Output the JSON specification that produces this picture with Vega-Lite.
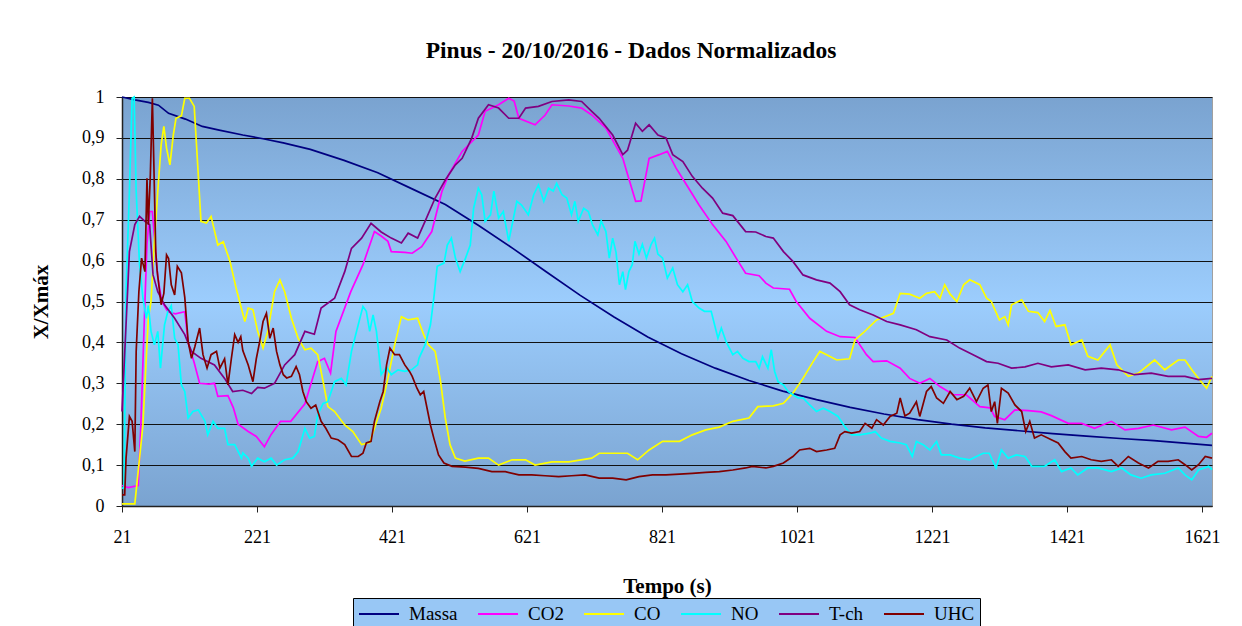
{
"$schema": "https://vega.github.io/schema/vega-lite/v6.json",
"width": 1090, "height": 409,
"autosize": {"type": "none"},
"padding": {"left": 122, "top": 97, "right": 30, "bottom": 120},
"background": "white",
"title": {"text": "Pinus - 20/10/2016 - Dados Normalizados", "font": "Liberation Serif", "fontSize": 23.5, "fontWeight": "bold", "color": "black", "anchor": "middle", "dx": -36, "offset": 26},
"view": {"fill": {"gradient": "linear", "x1": 0, "y1": 0, "x2": 0, "y2": 1, "stops": [{"offset": 0, "color": "#7aa3d0"}, {"offset": 0.5, "color": "#9ccdfd"}, {"offset": 1, "color": "#7aa3d0"}]}, "stroke": "#a0a0a0", "strokeWidth": 1},
"config": {
  "axis": {"labelFont": "Liberation Serif", "labelFontSize": 18, "labelColor": "black", "titleFont": "Liberation Serif", "titleFontSize": 21, "titleFontWeight": "bold", "titleColor": "black", "domainColor": "#222", "tickColor": "#222", "tickSize": 6, "domainWidth": 1.5}
},
"datasets": {
"Massa": [{"t":21,"v":1.0},{"t":40,"v":0.993},{"t":60,"v":0.987},{"t":75,"v":0.98},{"t":90,"v":0.96},{"t":115,"v":0.946},{"t":140,"v":0.928},{"t":165,"v":0.919},{"t":200,"v":0.907},{"t":230,"v":0.898},{"t":260,"v":0.888},{"t":300,"v":0.872},{"t":350,"v":0.845},{"t":400,"v":0.815},{"t":450,"v":0.776},{"t":500,"v":0.737},{"t":550,"v":0.685},{"t":600,"v":0.63},{"t":650,"v":0.572},{"t":700,"v":0.515},{"t":750,"v":0.462},{"t":800,"v":0.413},{"t":850,"v":0.372},{"t":900,"v":0.337},{"t":950,"v":0.307},{"t":1000,"v":0.281},{"t":1050,"v":0.26},{"t":1100,"v":0.241},{"t":1150,"v":0.225},{"t":1200,"v":0.211},{"t":1250,"v":0.2},{"t":1300,"v":0.191},{"t":1350,"v":0.184},{"t":1400,"v":0.177},{"t":1450,"v":0.171},{"t":1500,"v":0.165},{"t":1550,"v":0.16},{"t":1600,"v":0.153},{"t":1636,"v":0.148}],
"CO2": [{"t":21,"v":0.05},{"t":30,"v":0.045},{"t":45,"v":0.05},{"t":49,"v":0.2},{"t":52,"v":0.35},{"t":55,"v":0.5},{"t":58,"v":0.64},{"t":62,"v":0.72},{"t":66,"v":0.72},{"t":69,"v":0.66},{"t":74,"v":0.56},{"t":80,"v":0.5},{"t":89,"v":0.475},{"t":100,"v":0.47},{"t":114,"v":0.475},{"t":119,"v":0.4},{"t":128,"v":0.35},{"t":136,"v":0.3},{"t":150,"v":0.298},{"t":158,"v":0.3},{"t":163,"v":0.268},{"t":178,"v":0.27},{"t":186,"v":0.24},{"t":193,"v":0.2},{"t":208,"v":0.182},{"t":220,"v":0.17},{"t":232,"v":0.145},{"t":242,"v":0.175},{"t":256,"v":0.207},{"t":271,"v":0.207},{"t":292,"v":0.25},{"t":311,"v":0.353},{"t":321,"v":0.361},{"t":330,"v":0.325},{"t":338,"v":0.427},{"t":360,"v":0.524},{"t":378,"v":0.59},{"t":395,"v":0.671},{"t":405,"v":0.66},{"t":415,"v":0.647},{"t":420,"v":0.622},{"t":440,"v":0.62},{"t":451,"v":0.618},{"t":465,"v":0.634},{"t":480,"v":0.671},{"t":495,"v":0.769},{"t":505,"v":0.81},{"t":525,"v":0.867},{"t":549,"v":0.907},{"t":559,"v":0.965},{"t":579,"v":0.981},{"t":594,"v":0.997},{"t":602,"v":0.99},{"t":609,"v":0.948},{"t":633,"v":0.932},{"t":648,"v":0.956},{"t":658,"v":0.981},{"t":683,"v":0.978},{"t":702,"v":0.973},{"t":717,"v":0.956},{"t":738,"v":0.924},{"t":763,"v":0.85},{"t":772,"v":0.8},{"t":782,"v":0.745},{"t":790,"v":0.746},{"t":802,"v":0.85},{"t":817,"v":0.859},{"t":829,"v":0.867},{"t":842,"v":0.826},{"t":856,"v":0.789},{"t":876,"v":0.736},{"t":896,"v":0.688},{"t":916,"v":0.647},{"t":931,"v":0.606},{"t":945,"v":0.569},{"t":965,"v":0.563},{"t":975,"v":0.545},{"t":986,"v":0.533},{"t":1010,"v":0.53},{"t":1020,"v":0.5},{"t":1040,"v":0.459},{"t":1065,"v":0.427},{"t":1085,"v":0.414},{"t":1107,"v":0.412},{"t":1124,"v":0.37},{"t":1134,"v":0.353},{"t":1154,"v":0.355},{"t":1174,"v":0.337},{"t":1188,"v":0.312},{"t":1203,"v":0.3},{"t":1218,"v":0.312},{"t":1233,"v":0.292},{"t":1253,"v":0.272},{"t":1272,"v":0.272},{"t":1292,"v":0.243},{"t":1307,"v":0.24},{"t":1314,"v":0.219},{"t":1329,"v":0.211},{"t":1344,"v":0.235},{"t":1364,"v":0.233},{"t":1383,"v":0.23},{"t":1398,"v":0.221},{"t":1423,"v":0.202},{"t":1443,"v":0.202},{"t":1462,"v":0.19},{"t":1487,"v":0.207},{"t":1507,"v":0.186},{"t":1527,"v":0.19},{"t":1549,"v":0.198},{"t":1576,"v":0.186},{"t":1596,"v":0.193},{"t":1616,"v":0.17},{"t":1628,"v":0.168},{"t":1636,"v":0.178}],
"CO": [{"t":21,"v":0.005},{"t":30,"v":0.005},{"t":40,"v":0.005},{"t":47,"v":0.117},{"t":52,"v":0.198},{"t":56,"v":0.33},{"t":60,"v":0.459},{"t":64,"v":0.5},{"t":69,"v":0.647},{"t":74,"v":0.769},{"t":79,"v":0.883},{"t":83,"v":0.928},{"t":87,"v":0.875},{"t":92,"v":0.834},{"t":97,"v":0.907},{"t":101,"v":0.948},{"t":109,"v":0.954},{"t":114,"v":0.997},{"t":121,"v":0.997},{"t":128,"v":0.977},{"t":134,"v":0.81},{"t":138,"v":0.696},{"t":146,"v":0.692},{"t":153,"v":0.708},{"t":163,"v":0.638},{"t":171,"v":0.646},{"t":181,"v":0.598},{"t":190,"v":0.533},{"t":200,"v":0.47},{"t":203,"v":0.451},{"t":208,"v":0.484},{"t":215,"v":0.48},{"t":222,"v":0.427},{"t":230,"v":0.386},{"t":237,"v":0.427},{"t":247,"v":0.524},{"t":255,"v":0.553},{"t":262,"v":0.524},{"t":272,"v":0.459},{"t":282,"v":0.41},{"t":292,"v":0.382},{"t":301,"v":0.386},{"t":311,"v":0.37},{"t":319,"v":0.304},{"t":326,"v":0.243},{"t":336,"v":0.231},{"t":351,"v":0.198},{"t":363,"v":0.182},{"t":376,"v":0.15},{"t":388,"v":0.155},{"t":395,"v":0.19},{"t":405,"v":0.239},{"t":415,"v":0.312},{"t":425,"v":0.394},{"t":435,"v":0.463},{"t":445,"v":0.455},{"t":459,"v":0.459},{"t":468,"v":0.419},{"t":475,"v":0.394},{"t":485,"v":0.378},{"t":493,"v":0.304},{"t":500,"v":0.215},{"t":507,"v":0.15},{"t":515,"v":0.117},{"t":529,"v":0.11},{"t":549,"v":0.117},{"t":564,"v":0.117},{"t":579,"v":0.1},{"t":599,"v":0.113},{"t":619,"v":0.113},{"t":633,"v":0.1},{"t":658,"v":0.108},{"t":683,"v":0.108},{"t":717,"v":0.117},{"t":728,"v":0.129},{"t":748,"v":0.129},{"t":770,"v":0.129},{"t":785,"v":0.113},{"t":802,"v":0.137},{"t":822,"v":0.158},{"t":847,"v":0.158},{"t":866,"v":0.174},{"t":886,"v":0.186},{"t":906,"v":0.193},{"t":926,"v":0.207},{"t":950,"v":0.215},{"t":963,"v":0.243},{"t":986,"v":0.245},{"t":1001,"v":0.251},{"t":1015,"v":0.276},{"t":1030,"v":0.312},{"t":1045,"v":0.353},{"t":1055,"v":0.378},{"t":1065,"v":0.37},{"t":1080,"v":0.357},{"t":1099,"v":0.36},{"t":1107,"v":0.406},{"t":1119,"v":0.423},{"t":1139,"v":0.455},{"t":1164,"v":0.471},{"t":1174,"v":0.52},{"t":1188,"v":0.518},{"t":1203,"v":0.508},{"t":1213,"v":0.52},{"t":1225,"v":0.524},{"t":1233,"v":0.508},{"t":1240,"v":0.541},{"t":1248,"v":0.518},{"t":1258,"v":0.5},{"t":1268,"v":0.541},{"t":1277,"v":0.553},{"t":1292,"v":0.541},{"t":1302,"v":0.508},{"t":1309,"v":0.5},{"t":1321,"v":0.455},{"t":1329,"v":0.463},{"t":1334,"v":0.443},{"t":1339,"v":0.492},{"t":1354,"v":0.504},{"t":1364,"v":0.476},{"t":1378,"v":0.473},{"t":1388,"v":0.451},{"t":1396,"v":0.478},{"t":1405,"v":0.439},{"t":1418,"v":0.443},{"t":1427,"v":0.394},{"t":1443,"v":0.406},{"t":1452,"v":0.366},{"t":1467,"v":0.357},{"t":1485,"v":0.394},{"t":1495,"v":0.345},{"t":1512,"v":0.317},{"t":1527,"v":0.325},{"t":1551,"v":0.357},{"t":1566,"v":0.333},{"t":1586,"v":0.357},{"t":1596,"v":0.357},{"t":1608,"v":0.329},{"t":1620,"v":0.304},{"t":1628,"v":0.288},{"t":1636,"v":0.317}],
"NO": [{"t":21,"v":0.043},{"t":24,"v":0.045},{"t":27,"v":0.524},{"t":32,"v":0.77},{"t":36,"v":0.997},{"t":39,"v":1.0},{"t":42,"v":0.769},{"t":47,"v":0.59},{"t":52,"v":0.508},{"t":57,"v":0.459},{"t":60,"v":0.49},{"t":64,"v":0.427},{"t":69,"v":0.394},{"t":74,"v":0.427},{"t":78,"v":0.337},{"t":84,"v":0.443},{"t":89,"v":0.476},{"t":94,"v":0.49},{"t":99,"v":0.41},{"t":104,"v":0.394},{"t":109,"v":0.296},{"t":114,"v":0.28},{"t":119,"v":0.215},{"t":126,"v":0.231},{"t":134,"v":0.235},{"t":144,"v":0.207},{"t":148,"v":0.174},{"t":156,"v":0.207},{"t":163,"v":0.19},{"t":173,"v":0.19},{"t":178,"v":0.15},{"t":188,"v":0.15},{"t":198,"v":0.117},{"t":200,"v":0.13},{"t":208,"v":0.117},{"t":213,"v":0.097},{"t":222,"v":0.117},{"t":232,"v":0.108},{"t":242,"v":0.117},{"t":250,"v":0.1},{"t":262,"v":0.113},{"t":274,"v":0.117},{"t":282,"v":0.133},{"t":292,"v":0.19},{"t":299,"v":0.166},{"t":306,"v":0.17},{"t":311,"v":0.223},{"t":319,"v":0.251},{"t":326,"v":0.255},{"t":336,"v":0.304},{"t":346,"v":0.312},{"t":353,"v":0.296},{"t":361,"v":0.378},{"t":371,"v":0.443},{"t":378,"v":0.488},{"t":383,"v":0.476},{"t":388,"v":0.427},{"t":393,"v":0.467},{"t":398,"v":0.427},{"t":405,"v":0.321},{"t":413,"v":0.34},{"t":420,"v":0.321},{"t":430,"v":0.333},{"t":440,"v":0.329},{"t":450,"v":0.333},{"t":459,"v":0.345},{"t":461,"v":0.361},{"t":470,"v":0.394},{"t":478,"v":0.443},{"t":483,"v":0.508},{"t":488,"v":0.586},{"t":498,"v":0.594},{"t":503,"v":0.638},{"t":509,"v":0.655},{"t":515,"v":0.606},{"t":522,"v":0.573},{"t":530,"v":0.606},{"t":537,"v":0.638},{"t":542,"v":0.728},{"t":549,"v":0.777},{"t":554,"v":0.761},{"t":559,"v":0.696},{"t":567,"v":0.712},{"t":572,"v":0.77},{"t":579,"v":0.704},{"t":586,"v":0.72},{"t":594,"v":0.647},{"t":601,"v":0.704},{"t":606,"v":0.745},{"t":613,"v":0.736},{"t":623,"v":0.712},{"t":631,"v":0.761},{"t":638,"v":0.785},{"t":646,"v":0.745},{"t":653,"v":0.777},{"t":660,"v":0.77},{"t":665,"v":0.789},{"t":673,"v":0.761},{"t":680,"v":0.753},{"t":687,"v":0.712},{"t":692,"v":0.745},{"t":697,"v":0.696},{"t":705,"v":0.728},{"t":712,"v":0.72},{"t":718,"v":0.688},{"t":726,"v":0.663},{"t":731,"v":0.697},{"t":738,"v":0.671},{"t":743,"v":0.606},{"t":748,"v":0.655},{"t":753,"v":0.62},{"t":758,"v":0.541},{"t":763,"v":0.573},{"t":767,"v":0.529},{"t":772,"v":0.573},{"t":777,"v":0.59},{"t":781,"v":0.647},{"t":787,"v":0.616},{"t":792,"v":0.64},{"t":798,"v":0.606},{"t":805,"v":0.64},{"t":810,"v":0.655},{"t":815,"v":0.616},{"t":822,"v":0.606},{"t":829,"v":0.557},{"t":837,"v":0.582},{"t":844,"v":0.541},{"t":852,"v":0.524},{"t":859,"v":0.541},{"t":866,"v":0.5},{"t":876,"v":0.484},{"t":884,"v":0.476},{"t":894,"v":0.476},{"t":899,"v":0.443},{"t":904,"v":0.41},{"t":909,"v":0.435},{"t":916,"v":0.402},{"t":926,"v":0.37},{"t":933,"v":0.378},{"t":941,"v":0.361},{"t":950,"v":0.353},{"t":960,"v":0.353},{"t":965,"v":0.337},{"t":970,"v":0.365},{"t":978,"v":0.337},{"t":983,"v":0.382},{"t":988,"v":0.329},{"t":993,"v":0.304},{"t":1001,"v":0.296},{"t":1008,"v":0.28},{"t":1015,"v":0.272},{"t":1023,"v":0.264},{"t":1030,"v":0.264},{"t":1040,"v":0.247},{"t":1050,"v":0.231},{"t":1060,"v":0.239},{"t":1070,"v":0.231},{"t":1082,"v":0.219},{"t":1092,"v":0.194},{"t":1102,"v":0.174},{"t":1114,"v":0.174},{"t":1129,"v":0.178},{"t":1137,"v":0.182},{"t":1146,"v":0.166},{"t":1159,"v":0.158},{"t":1174,"v":0.154},{"t":1183,"v":0.15},{"t":1192,"v":0.121},{"t":1198,"v":0.158},{"t":1208,"v":0.15},{"t":1218,"v":0.137},{"t":1228,"v":0.158},{"t":1235,"v":0.125},{"t":1248,"v":0.125},{"t":1262,"v":0.117},{"t":1277,"v":0.113},{"t":1287,"v":0.121},{"t":1297,"v":0.129},{"t":1306,"v":0.129},{"t":1316,"v":0.093},{"t":1324,"v":0.137},{"t":1334,"v":0.117},{"t":1346,"v":0.125},{"t":1359,"v":0.121},{"t":1369,"v":0.097},{"t":1388,"v":0.097},{"t":1403,"v":0.113},{"t":1413,"v":0.084},{"t":1427,"v":0.093},{"t":1437,"v":0.076},{"t":1452,"v":0.093},{"t":1467,"v":0.093},{"t":1487,"v":0.084},{"t":1502,"v":0.093},{"t":1516,"v":0.076},{"t":1531,"v":0.068},{"t":1546,"v":0.076},{"t":1566,"v":0.08},{"t":1586,"v":0.093},{"t":1596,"v":0.076},{"t":1606,"v":0.064},{"t":1616,"v":0.088},{"t":1631,"v":0.097},{"t":1636,"v":0.089}],
"T-ch": [{"t":21,"v":0.231},{"t":27,"v":0.444},{"t":32,"v":0.622},{"t":40,"v":0.688},{"t":47,"v":0.708},{"t":55,"v":0.696},{"t":62,"v":0.688},{"t":67,"v":0.565},{"t":74,"v":0.524},{"t":84,"v":0.492},{"t":99,"v":0.459},{"t":114,"v":0.419},{"t":124,"v":0.378},{"t":138,"v":0.361},{"t":158,"v":0.345},{"t":173,"v":0.312},{"t":185,"v":0.28},{"t":200,"v":0.283},{"t":213,"v":0.275},{"t":222,"v":0.29},{"t":232,"v":0.288},{"t":247,"v":0.3},{"t":262,"v":0.345},{"t":277,"v":0.37},{"t":292,"v":0.427},{"t":306,"v":0.42},{"t":316,"v":0.484},{"t":336,"v":0.508},{"t":351,"v":0.573},{"t":361,"v":0.63},{"t":376,"v":0.655},{"t":390,"v":0.691},{"t":405,"v":0.67},{"t":420,"v":0.655},{"t":435,"v":0.643},{"t":445,"v":0.667},{"t":459,"v":0.655},{"t":470,"v":0.696},{"t":485,"v":0.753},{"t":500,"v":0.797},{"t":515,"v":0.834},{"t":525,"v":0.85},{"t":539,"v":0.899},{"t":549,"v":0.948},{"t":564,"v":0.981},{"t":579,"v":0.973},{"t":594,"v":0.948},{"t":609,"v":0.948},{"t":619,"v":0.973},{"t":638,"v":0.977},{"t":658,"v":0.989},{"t":683,"v":0.993},{"t":702,"v":0.989},{"t":717,"v":0.965},{"t":728,"v":0.948},{"t":748,"v":0.907},{"t":763,"v":0.859},{"t":770,"v":0.87},{"t":782,"v":0.936},{"t":792,"v":0.916},{"t":802,"v":0.932},{"t":815,"v":0.907},{"t":827,"v":0.9},{"t":837,"v":0.859},{"t":852,"v":0.842},{"t":866,"v":0.806},{"t":881,"v":0.777},{"t":896,"v":0.753},{"t":911,"v":0.716},{"t":926,"v":0.71},{"t":945,"v":0.671},{"t":960,"v":0.67},{"t":975,"v":0.659},{"t":986,"v":0.655},{"t":1001,"v":0.622},{"t":1015,"v":0.598},{"t":1030,"v":0.565},{"t":1050,"v":0.553},{"t":1070,"v":0.545},{"t":1085,"v":0.524},{"t":1099,"v":0.492},{"t":1114,"v":0.48},{"t":1134,"v":0.467},{"t":1154,"v":0.451},{"t":1174,"v":0.443},{"t":1198,"v":0.431},{"t":1218,"v":0.414},{"t":1243,"v":0.406},{"t":1262,"v":0.386},{"t":1282,"v":0.37},{"t":1302,"v":0.353},{"t":1319,"v":0.349},{"t":1339,"v":0.337},{"t":1359,"v":0.34},{"t":1378,"v":0.349},{"t":1398,"v":0.34},{"t":1423,"v":0.345},{"t":1448,"v":0.333},{"t":1472,"v":0.337},{"t":1497,"v":0.333},{"t":1521,"v":0.321},{"t":1546,"v":0.325},{"t":1571,"v":0.317},{"t":1596,"v":0.317},{"t":1616,"v":0.309},{"t":1636,"v":0.312}],
"UHC": [{"t":21,"v":0.027},{"t":25,"v":0.027},{"t":27,"v":0.117},{"t":32,"v":0.219},{"t":36,"v":0.207},{"t":40,"v":0.133},{"t":42,"v":0.378},{"t":46,"v":0.524},{"t":50,"v":0.606},{"t":55,"v":0.573},{"t":58,"v":0.801},{"t":60,"v":0.688},{"t":63,"v":0.81},{"t":66,"v":0.997},{"t":68,"v":0.85},{"t":71,"v":0.622},{"t":73,"v":0.576},{"t":79,"v":0.492},{"t":83,"v":0.52},{"t":87,"v":0.614},{"t":90,"v":0.605},{"t":94,"v":0.541},{"t":99,"v":0.516},{"t":103,"v":0.586},{"t":109,"v":0.57},{"t":114,"v":0.51},{"t":119,"v":0.402},{"t":124,"v":0.361},{"t":129,"v":0.39},{"t":136,"v":0.435},{"t":141,"v":0.37},{"t":147,"v":0.337},{"t":153,"v":0.37},{"t":161,"v":0.378},{"t":166,"v":0.337},{"t":173,"v":0.36},{"t":178,"v":0.296},{"t":183,"v":0.36},{"t":188,"v":0.419},{"t":193,"v":0.4},{"t":197,"v":0.414},{"t":200,"v":0.38},{"t":208,"v":0.345},{"t":215,"v":0.304},{"t":220,"v":0.36},{"t":225,"v":0.402},{"t":230,"v":0.451},{"t":235,"v":0.471},{"t":240,"v":0.41},{"t":245,"v":0.435},{"t":250,"v":0.378},{"t":255,"v":0.345},{"t":260,"v":0.321},{"t":265,"v":0.313},{"t":272,"v":0.317},{"t":279,"v":0.341},{"t":284,"v":0.321},{"t":289,"v":0.28},{"t":294,"v":0.255},{"t":301,"v":0.239},{"t":308,"v":0.247},{"t":316,"v":0.207},{"t":323,"v":0.19},{"t":331,"v":0.166},{"t":341,"v":0.162},{"t":351,"v":0.15},{"t":361,"v":0.121},{"t":371,"v":0.121},{"t":378,"v":0.129},{"t":383,"v":0.154},{"t":390,"v":0.158},{"t":395,"v":0.207},{"t":403,"v":0.255},{"t":408,"v":0.28},{"t":413,"v":0.345},{"t":418,"v":0.386},{"t":425,"v":0.37},{"t":432,"v":0.37},{"t":440,"v":0.345},{"t":447,"v":0.329},{"t":451,"v":0.317},{"t":458,"v":0.288},{"t":463,"v":0.272},{"t":468,"v":0.28},{"t":473,"v":0.239},{"t":478,"v":0.198},{"t":483,"v":0.166},{"t":490,"v":0.125},{"t":498,"v":0.105},{"t":510,"v":0.097},{"t":530,"v":0.095},{"t":549,"v":0.092},{"t":569,"v":0.084},{"t":589,"v":0.084},{"t":609,"v":0.076},{"t":628,"v":0.076},{"t":648,"v":0.074},{"t":668,"v":0.072},{"t":687,"v":0.074},{"t":707,"v":0.076},{"t":728,"v":0.068},{"t":748,"v":0.068},{"t":768,"v":0.064},{"t":787,"v":0.072},{"t":807,"v":0.076},{"t":827,"v":0.076},{"t":847,"v":0.078},{"t":866,"v":0.08},{"t":886,"v":0.082},{"t":906,"v":0.084},{"t":926,"v":0.088},{"t":945,"v":0.093},{"t":955,"v":0.097},{"t":975,"v":0.093},{"t":986,"v":0.097},{"t":1001,"v":0.105},{"t":1015,"v":0.121},{"t":1025,"v":0.137},{"t":1040,"v":0.141},{"t":1050,"v":0.133},{"t":1065,"v":0.137},{"t":1077,"v":0.141},{"t":1085,"v":0.174},{"t":1092,"v":0.182},{"t":1102,"v":0.178},{"t":1114,"v":0.182},{"t":1122,"v":0.202},{"t":1132,"v":0.19},{"t":1139,"v":0.211},{"t":1149,"v":0.198},{"t":1159,"v":0.219},{"t":1169,"v":0.227},{"t":1174,"v":0.264},{"t":1181,"v":0.22},{"t":1188,"v":0.227},{"t":1198,"v":0.255},{"t":1203,"v":0.219},{"t":1213,"v":0.28},{"t":1220,"v":0.292},{"t":1228,"v":0.264},{"t":1238,"v":0.251},{"t":1248,"v":0.28},{"t":1258,"v":0.26},{"t":1268,"v":0.268},{"t":1277,"v":0.288},{"t":1287,"v":0.255},{"t":1297,"v":0.288},{"t":1304,"v":0.296},{"t":1309,"v":0.231},{"t":1314,"v":0.255},{"t":1318,"v":0.202},{"t":1324,"v":0.288},{"t":1334,"v":0.276},{"t":1344,"v":0.247},{"t":1354,"v":0.231},{"t":1360,"v":0.182},{"t":1366,"v":0.207},{"t":1373,"v":0.166},{"t":1383,"v":0.174},{"t":1398,"v":0.162},{"t":1408,"v":0.154},{"t":1418,"v":0.133},{"t":1427,"v":0.117},{"t":1443,"v":0.121},{"t":1457,"v":0.113},{"t":1472,"v":0.109},{"t":1487,"v":0.113},{"t":1497,"v":0.097},{"t":1512,"v":0.121},{"t":1527,"v":0.105},{"t":1542,"v":0.093},{"t":1556,"v":0.109},{"t":1571,"v":0.109},{"t":1586,"v":0.113},{"t":1596,"v":0.101},{"t":1606,"v":0.088},{"t":1616,"v":0.101},{"t":1626,"v":0.121},{"t":1636,"v":0.117}]
},
"encoding": {
  "x": {"field": "t", "type": "quantitative", "scale": {"domain": [21, 1636], "nice": false, "zero": false},
        "axis": {"values": [21, 221, 421, 621, 821, 1021, 1221, 1421, 1621], "format": "d", "title": "Tempo (s)", "grid": false, "labelPadding": 16, "titlePadding": 29, "labelFlush": false}},
  "y": {"field": "v", "type": "quantitative", "scale": {"domain": [0, 1], "nice": false},
        "axis": {"values": [0, 0.1, 0.2, 0.3, 0.4, 0.5, 0.6, 0.7, 0.8, 0.9, 1], "labelExpr": "replace(format(datum.value, '.1~f'), '.', ',')", "title": "X/Xmáx", "grid": true, "gridColor": "#111", "gridWidth": 1, "gridOpacity": 1, "labelPadding": 12, "titlePadding": 30}}
},
"layer": [
  {"data": {"name": "Massa"}, "mark": {"type": "line", "strokeWidth": 1.7}, "encoding": {"color": {"datum": "Massa", "type": "nominal",
     "scale": {"domain": ["Massa", "CO2", "CO", "NO", "T-ch", "UHC"], "range": ["#000080", "#ff00ff", "#ffff00", "#00ffff", "#800080", "#800000"]},
     "legend": {"title": null, "orient": "none", "legendX": 231, "legendY": 501, "direction": "horizontal", "columns": 6, "symbolType": "M-1,0H3", "symbolSize": 400, "symbolStrokeWidth": 2, "labelFont": "Liberation Serif", "labelFontSize": 19, "labelColor": "black", "labelOffset": 29, "columnPadding": 16, "fillColor": "#98c7f5", "strokeColor": "black", "padding": 5}}}},
  {"data": {"name": "CO2"}, "mark": {"type": "line", "strokeWidth": 1.7}, "encoding": {"color": {"datum": "CO2", "type": "nominal"}}},
  {"data": {"name": "CO"}, "mark": {"type": "line", "strokeWidth": 1.7}, "encoding": {"color": {"datum": "CO", "type": "nominal"}}},
  {"data": {"name": "NO"}, "mark": {"type": "line", "strokeWidth": 1.7}, "encoding": {"color": {"datum": "NO", "type": "nominal"}}},
  {"data": {"name": "T-ch"}, "mark": {"type": "line", "strokeWidth": 1.7}, "encoding": {"color": {"datum": "T-ch", "type": "nominal"}}},
  {"data": {"name": "UHC"}, "mark": {"type": "line", "strokeWidth": 1.7}, "encoding": {"color": {"datum": "UHC", "type": "nominal"}}}
]
}
